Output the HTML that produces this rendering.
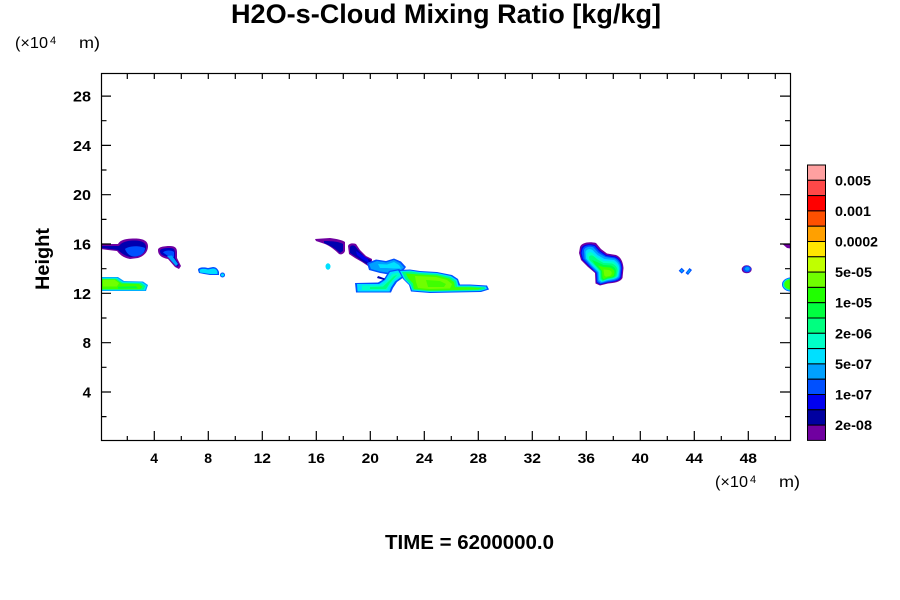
<!DOCTYPE html>
<html>
<head>
<meta charset="utf-8">
<style>
html,body{margin:0;padding:0;background:#fff;}
svg{display:block;}
text{font-family:"Liberation Sans",Arial,sans-serif;fill:#000;}
.b{font-weight:bold;}
</style>
</head>
<body>
<svg width="900" height="600" viewBox="0 0 900 600" xmlns="http://www.w3.org/2000/svg">
<defs>
<clipPath id="pc"><rect x="101.5" y="73.5" width="689" height="367"/></clipPath>
</defs>

<!-- Title -->
<text class="b" x="231" y="23" font-size="27" textLength="430" lengthAdjust="spacingAndGlyphs">H2O-s-Cloud Mixing Ratio [kg/kg]</text>

<!-- top-left unit label -->
<text x="15" y="48" font-size="16" textLength="33" lengthAdjust="spacingAndGlyphs">(×10</text>
<text x="50" y="44" font-size="11">4</text>
<text x="79" y="48" font-size="16" textLength="21" lengthAdjust="spacingAndGlyphs">m)</text>

<!-- bottom-right unit label -->
<text x="715" y="487" font-size="16" textLength="33" lengthAdjust="spacingAndGlyphs">(×10</text>
<text x="750" y="483" font-size="11">4</text>
<text x="779" y="487" font-size="16" textLength="21" lengthAdjust="spacingAndGlyphs">m)</text>

<!-- Height label -->
<text class="b" transform="translate(49,290) rotate(-90)" x="0" y="0" font-size="19" textLength="62" lengthAdjust="spacingAndGlyphs">Height</text>

<!-- TIME -->
<text class="b" x="385" y="549" font-size="20" textLength="169" lengthAdjust="spacingAndGlyphs">TIME = 6200000.0</text>

<!-- Clouds -->
<g clip-path="url(#pc)">
  <!-- Cloud A upper left -->
  <path d="M101,244 L118,244 C120,240 126,238.5 135,238.5 C143,238.5 148,241 148,246 C148,252 144,256 138,258 L130,259 C124,258 120,255 117,251 L108,250 L101,249 Z" fill="#7000a0"/>
  <path d="M101,246 L119,246 C122,242 127,240.5 135,240.5 C142,240.5 146,243 146,247 C146,252 142,255 137,256.5 L130,257 C125,256 121,253 118,250 L101,248 Z" fill="#0000b0"/>
  <path d="M125,249 C129,245.5 140,245.5 145,248 C145,253 141,256 135,256.5 C130,256.5 127,254 125,249 Z" fill="#0050ff"/>

  <!-- Cloud B -->
  <path d="M158,250 C158,247 164,246 170,246 C175,246 177,248 177,252 L177,258 L181,266 L179,269 L175,267 L168,259 C163,258 158,256 158,250 Z" fill="#7000a0"/>
  <path d="M160,251 C160,248.5 165,248 170,248 C174,248 175,250 175,253 L175,258 L179,265 L177,267 L168,257 C164,256 160,255 160,251 Z" fill="#0000c0"/>
  <path d="M163,252.5 C165,250 172,250 174,252 L174,257 L168,256 Z" fill="#0050ff"/>
  <path d="M167,256 L172,255.5 L178,264 L176,266 Z" fill="#00a0ff"/>

  <!-- Cloud C lower green left -->
  <path d="M101,277 L118,277 L124,281 L143,281.5 L148,285 L146,291 L101,291 Z" fill="#00a0ff"/>
  <path d="M101,277.8 L117,277.8 L123,281.8 L142,282.3 L146.8,285.5 L145,290.3 L101,290.3 Z" fill="#00e0ff"/>
  <path d="M101,278.6 L116.5,278.6 L122.5,282.6 L141,283 L145.3,286 L143.5,289.7 L101,289.7 Z" fill="#00ff80"/>
  <path d="M102,279.2 L115.5,279.2 L121.5,283.5 L139,284 L142.5,286.8 L140,289.2 L102,289.2 Z" fill="#40ff00"/>
  <path d="M103,279.8 L114.5,279.8 L119,283 L117,286.5 L103,286.5 Z" fill="#70ff00"/>
  <path d="M118,286.8 L136,286.3 L138,288.2 L118,288.6 Z" fill="#00ff40"/>

  <!-- Cloud D small cyan -->
  <path d="M198,270 C198,267 204,267 208,268 L213,267 C216,267 218,269 219,272 L219,275 L210,275 L204,274 L199,273 Z" fill="#0050ff"/>
  <path d="M199.5,270.5 C200,268.5 204,268.5 208,269.5 L213,268.5 C215.5,268.5 217,270 217.5,272 L217.5,274 L210,274 L204,273 L200,272.5 Z" fill="#00e0ff"/>
  <circle cx="222.5" cy="275" r="2.5" fill="#0050ff"/>
  <circle cx="222.5" cy="275" r="1.5" fill="#00e0ff"/>

  <!-- Cloud E1 purple streak -->
  <path d="M315,239 L330,238 C337,239 342,240 345,242 L345,251 C344,254 341,255 339,254 C335,250 330,246 325,244 L316,241 Z" fill="#7000a0"/>
  <path d="M324,241 C333,241 340,242 343,244 L343,251 L340,253 C336,249 331,246 324,243 Z" fill="#0000b0"/>

  <!-- Cloud E2 -->
  <path d="M348,246 C349,243 353,243 356,244 L360,250 L366,256 L372,259 L372,266 L368,266 L362,262 L355,258 L349,254 Z" fill="#7000a0"/>
  <path d="M350,247 C351,245 353,245 355,246 L359,251 L365,257 L371,260 L371,265 L368,265 L362,261 L356,257 L350,253 Z" fill="#0000b0"/>
  <path d="M356,251 L362,255 L368,259 L369,263 L362,259 L357,255 Z" fill="#0000f0"/>

  <!-- E3 dot -->
  <ellipse cx="328" cy="266.5" rx="2.5" ry="3.2" fill="#00e0ff"/>

  <!-- E4 blue/cyan -->
  <path d="M367,263 L376,259.5 L386,261 L394,258.5 L401,261.5 L406,267 L403,271 L395,271 L391,275 L380,273 L369,270 Z" fill="#0050ff"/>
  <path d="M369,264 L377,261 L386,262.5 L394,260 L400,263 L404,267.5 L401,270 L394,270 L390,273 L380,271.5 L371,269 Z" fill="#00a0ff"/>
  <path d="M378,264 L387,264.5 L394,262 L399,265 L401,268.5 L394,268.5 L386,268 L380,268 Z" fill="#00e0ff"/>

  <!-- E5 lower-left streak and connector -->
  <path d="M355,283 L378,282.5 L384,279 L389,271 L399,269 L407,275 L397,282 L393,288 L391,292.5 L356,292.5 Z" fill="#0050ff"/>
  <path d="M357,284 L379,284 L385,280 L390,272 L398,270.5 L404,275 L395,281.5 L391,287.5 L389.5,291.5 L357.5,291.5 Z" fill="#00e0ff"/>
  <path d="M362,285.5 L380,285.5 L387,281 L392,274 L398,272.5 L401,275 L394,280 L389,286 L387,290 L362,290 Z" fill="#00ffc8"/>
  <path d="M370,287 L383,286.5 L389,281 L394,276 L397,275 L390,283 L386,289 L370,289 Z" fill="#00ff80"/>
  <path d="M378,276 L385,278.5 L384,280 L377,278 Z" fill="#0000b0"/>

  <!-- E6 green region -->
  <path d="M398,270 L410,269.5 L420,271 L437,272 L452,275 L458,279 L460,284.5 L470,284.5 L487,285.5 L489,289.5 L481,292 L430,293 L411,291.5 L409,285 L403,279 Z" fill="#0050ff"/>
  <path d="M400,271 L410,270.5 L420,272 L437,273 L451,276 L457,280 L458.5,285.5 L470,285.5 L486,286.5 L487,289 L480,291 L430,292 L412,290.5 L410,285 L404,279 Z" fill="#00e0ff"/>
  <path d="M402,272 L411,271.5 L420,273 L437,274 L450,277 L456,281 L457,286.5 L470,286.5 L484.5,287.3 L485,289 L479,290.3 L430,291.3 L413,289.8 L411,284.5 L405.5,279 Z" fill="#00ff80"/>
  <path d="M406,273.5 L420,274.5 L437,275.5 L449,278.5 L454,282 L455,287.3 L470,287.4 L482,288.2 L478,289.5 L430,290.5 L414,289 L413,283.5 L408,278 Z" fill="#40ff00"/>
  <path d="M415,276 L436,277 L447,280 L452,284 L450,288.5 L430,289 L418,288 L416,282 Z" fill="#70ff00"/>
  <path d="M426,280 L440,281 L446,284 L444,287 L428,287 Z" fill="#40ff00"/>

  <!-- Cloud F at 36-38 -->
  <path d="M580,247 C582,242 590,241.5 596,243 L601,249 L607,253.5 L616,255 C621,257 623,262 623.5,268 L622.5,278 C620.5,282 614,283 608,283.5 L600,285.5 L595.5,283.5 L595,273 L588,267 L581,260 L579,253 Z" fill="#7000a0"/>
  <path d="M581.5,248 C583,244 590,243.5 595,245 L600,250.5 L606.5,255 L615.5,256.5 C620,258.5 622,263 622.3,268 L621.3,277.5 C619.5,281 614,282 608,282.5 L600,284.5 L596.5,282.5 L596,273 L589,266.5 L582,259.5 L580.5,253 Z" fill="#0000f0"/>
  <path d="M582.5,249 C584,245 590,244.5 594.5,246 L599.5,251.5 L606,256 L615,257.5 C619.5,259.5 621.5,263.5 621.5,268.5 L620.5,277 C619,280.5 613.5,281.5 608,282 L600.3,284 L597,282 L596.5,273 L589.5,266 L583,259 L581.5,253 Z" fill="#0050ff"/>
  <path d="M584,250 C585,247 590,246 593.5,247.5 L598.5,253 L605.5,257 L614.5,258.5 C618.5,260.5 620.5,264 620.5,268.5 L619.5,276.5 C618,279.5 613,280.5 608,281 L600.8,283 L598,281 L597.5,272.5 L590.5,265.5 L584.5,258.5 Z" fill="#00a0ff"/>
  <path d="M585.5,252 C586.5,249 590,248.5 592.5,250 L597.5,255 L604.5,259 L614,260 C617.5,262 619.5,265 619.5,269 L618.5,276 C617,278.5 612.5,279.5 608,280 L601.5,282 L599,280 L598.5,272 L591.5,265 L586,258.5 Z" fill="#00e0ff"/>
  <path d="M587,254.5 C588,252 590.5,251.5 592.5,253 L597,257 L603.5,261 L613,261.5 C616.5,263.5 618.5,266 618.5,269.5 L617.5,276 C616,278 612,279 608,279.5 L602,281.5 L599.8,279.5 L599.3,271.5 L592.5,264.5 L587.5,259 Z" fill="#00ffc8"/>
  <path d="M589,257 C590,255 592,255 594,256.5 L597.5,259.5 L603.5,263 L612,263.5 C615.5,265 617.5,267.5 617.5,270.5 L616.5,276 C615,278 611.5,278.5 608,279 L602.5,281 L600.5,279 L600,271 L593.5,264 L589.5,260 Z" fill="#00ff80"/>
  <path d="M592,260 L597,262 L603.5,265 L611,265.5 C614.5,267 616,269 616,271.5 L615.3,275.8 C614,277.5 611,278 608,278.3 L603,280.3 L601.3,278.3 L601,271 L595,264.5 Z" fill="#00ff40"/>
  <path d="M598,265.5 L603.5,267 L610,267.5 C613.5,269 614.5,270.5 614.5,272.5 L613.8,275.5 C612.5,277 610,277.3 607.5,277.5 L603.8,279.3 L602.5,277.5 L602,271 Z" fill="#40ff00"/>
  <path d="M603.5,269.5 L609,270 C611.5,271 612,272.5 611.5,274.3 L610.5,275.8 L606,276.8 L604.3,275.5 Z" fill="#70ff00"/>

  <!-- small diamonds near 43-44 -->
  <path d="M681.7,267.8 L684.7,270.7 L681.7,273.6 L678.7,270.7 Z" fill="#0050ff"/>
  <path d="M681.7,269.3 L683.2,270.7 L681.7,272.1 L680.2,270.7 Z" fill="#00a0ff"/>
  <path d="M689.5,268 L692,270 L688,275 L685.5,273 Z" fill="#0050ff"/>
  <path d="M689.3,269.5 L690.5,270.5 L688,273.5 L687,272.5 Z" fill="#00a0ff"/>

  <!-- small cloud at 48 -->
  <ellipse cx="746.7" cy="269.3" rx="5" ry="4" fill="#7000a0"/>
  <ellipse cx="747" cy="269" rx="4" ry="3.2" fill="#0050ff"/>
  <ellipse cx="747.3" cy="268.8" rx="2.3" ry="1.8" fill="#00a0ff"/>

  <!-- right edge purple -->
  <path d="M783,244.5 L791,243.5 L791,248.5 L787,248 Z" fill="#7000a0"/>

  <!-- right edge green blob -->
  <ellipse cx="791" cy="284.5" rx="9" ry="7" fill="#0050ff"/>
  <ellipse cx="791" cy="284.5" rx="8.2" ry="6.3" fill="#00e0ff"/>
  <ellipse cx="791" cy="284.5" rx="7.4" ry="5.7" fill="#00ff80"/>
  <ellipse cx="791" cy="284.3" rx="6.5" ry="5" fill="#40ff00"/>
</g>

<!-- Axes frame -->
<rect x="101.5" y="73.5" width="689" height="367" fill="none" stroke="#000" stroke-width="1.2"/>

<!-- Ticks -->
<g stroke="#000" stroke-width="1.2">
  <path d="M154.3,440 V431 M208.3,440 V431 M262.3,440 V431 M316.3,440 V431 M370.3,440 V431 M424.3,440 V431 M478.3,440 V431 M532.3,440 V431 M586.3,440 V431 M640.3,440 V431 M694.3,440 V431 M748.3,440 V431"/>
  <path d="M127.3,440 V436 M181.3,440 V436 M235.3,440 V436 M289.3,440 V436 M343.3,440 V436 M397.3,440 V436 M451.3,440 V436 M505.3,440 V436 M559.3,440 V436 M613.3,440 V436 M667.3,440 V436 M721.3,440 V436 M775.3,440 V436"/>
  <path d="M127.3,74 V79 M154.3,74 V79 M181.3,74 V79 M208.3,74 V79 M235.3,74 V79 M262.3,74 V79 M289.3,74 V79 M316.3,74 V79 M343.3,74 V79 M370.3,74 V79 M397.3,74 V79 M424.3,74 V79 M451.3,74 V79 M478.3,74 V79 M505.3,74 V79 M532.3,74 V79 M559.3,74 V79 M586.3,74 V79 M613.3,74 V79 M640.3,74 V79 M667.3,74 V79 M694.3,74 V79 M721.3,74 V79 M748.3,74 V79 M775.3,74 V79"/>
  <path d="M102,392 H111 M102,342.7 H111 M102,293.3 H111 M102,244 H111 M102,194.7 H111 M102,145.4 H111 M102,96.1 H111"/>
  <path d="M102,416.6 H106.5 M102,367.3 H106.5 M102,318 H106.5 M102,268.7 H106.5 M102,219.4 H106.5 M102,170 H106.5 M102,120.7 H106.5"/>
  <path d="M790,392 H780 M790,342.7 H780 M790,293.3 H780 M790,244 H780 M790,194.7 H780 M790,145.4 H780 M790,96.1 H780"/>
  <path d="M790,416.6 H785 M790,367.3 H785 M790,318 H785 M790,268.7 H785 M790,219.4 H785 M790,170 H785 M790,120.7 H785"/>
</g>

<!-- Y tick labels -->
<g font-size="15" text-anchor="end" font-weight="bold">
  <text x="91" y="397.5" class="b">4</text>
  <text x="91" y="348.2" class="b">8</text>
  <text x="91" y="298.8" class="b" textLength="18" lengthAdjust="spacingAndGlyphs">12</text>
  <text x="91" y="249.5" class="b" textLength="18" lengthAdjust="spacingAndGlyphs">16</text>
  <text x="91" y="200.2" class="b" textLength="18" lengthAdjust="spacingAndGlyphs">20</text>
  <text x="91" y="150.9" class="b" textLength="18" lengthAdjust="spacingAndGlyphs">24</text>
  <text x="91" y="101.6" class="b" textLength="18" lengthAdjust="spacingAndGlyphs">28</text>
</g>

<!-- X tick labels -->
<g font-size="14" font-weight="bold">
  <text class="b" x="150.3" y="463">4</text>
  <text class="b" x="204.3" y="463">8</text>
  <text class="b" x="253.6" y="463" textLength="17.4" lengthAdjust="spacingAndGlyphs">12</text>
  <text class="b" x="307.6" y="463" textLength="17.4" lengthAdjust="spacingAndGlyphs">16</text>
  <text class="b" x="361.6" y="463" textLength="17.4" lengthAdjust="spacingAndGlyphs">20</text>
  <text class="b" x="415.6" y="463" textLength="17.4" lengthAdjust="spacingAndGlyphs">24</text>
  <text class="b" x="469.6" y="463" textLength="17.4" lengthAdjust="spacingAndGlyphs">28</text>
  <text class="b" x="523.6" y="463" textLength="17.4" lengthAdjust="spacingAndGlyphs">32</text>
  <text class="b" x="577.6" y="463" textLength="17.4" lengthAdjust="spacingAndGlyphs">36</text>
  <text class="b" x="631.6" y="463" textLength="17.4" lengthAdjust="spacingAndGlyphs">40</text>
  <text class="b" x="685.6" y="463" textLength="17.4" lengthAdjust="spacingAndGlyphs">44</text>
  <text class="b" x="739.6" y="463" textLength="17.4" lengthAdjust="spacingAndGlyphs">48</text>
</g>

<!-- Colorbar -->
<g stroke="#000" stroke-width="1">
  <rect x="807.5" y="165.0" width="18" height="15.3" fill="#ffa0a0"/>
  <rect x="807.5" y="180.3" width="18" height="15.3" fill="#ff4848"/>
  <rect x="807.5" y="195.6" width="18" height="15.3" fill="#ff0000"/>
  <rect x="807.5" y="210.9" width="18" height="15.3" fill="#ff5000"/>
  <rect x="807.5" y="226.2" width="18" height="15.3" fill="#ffa000"/>
  <rect x="807.5" y="241.5" width="18" height="15.3" fill="#ffe600"/>
  <rect x="807.5" y="256.8" width="18" height="15.3" fill="#c0ff00"/>
  <rect x="807.5" y="272.1" width="18" height="15.3" fill="#70ff00"/>
  <rect x="807.5" y="287.4" width="18" height="15.3" fill="#20ff00"/>
  <rect x="807.5" y="302.7" width="18" height="15.3" fill="#00ff40"/>
  <rect x="807.5" y="318.0" width="18" height="15.3" fill="#00ff80"/>
  <rect x="807.5" y="333.3" width="18" height="15.3" fill="#00ffc8"/>
  <rect x="807.5" y="348.6" width="18" height="15.3" fill="#00e0ff"/>
  <rect x="807.5" y="363.9" width="18" height="15.3" fill="#00a0ff"/>
  <rect x="807.5" y="379.2" width="18" height="15.3" fill="#0050ff"/>
  <rect x="807.5" y="394.5" width="18" height="15.3" fill="#0000f0"/>
  <rect x="807.5" y="409.8" width="18" height="15.3" fill="#0000a0"/>
  <rect x="807.5" y="425.1" width="18" height="15.3" fill="#7000a0"/>
</g>

<g font-size="13.5" font-weight="bold">
  <text class="b" x="835" y="185.3" textLength="36" lengthAdjust="spacingAndGlyphs">0.005</text>
  <text class="b" x="835" y="215.9" textLength="36" lengthAdjust="spacingAndGlyphs">0.001</text>
  <text class="b" x="835" y="246.5" textLength="43" lengthAdjust="spacingAndGlyphs">0.0002</text>
  <text class="b" x="835" y="277.1" textLength="37" lengthAdjust="spacingAndGlyphs">5e-05</text>
  <text class="b" x="835" y="307.7" textLength="37" lengthAdjust="spacingAndGlyphs">1e-05</text>
  <text class="b" x="835" y="338.3" textLength="37" lengthAdjust="spacingAndGlyphs">2e-06</text>
  <text class="b" x="835" y="368.9" textLength="37" lengthAdjust="spacingAndGlyphs">5e-07</text>
  <text class="b" x="835" y="399.5" textLength="37" lengthAdjust="spacingAndGlyphs">1e-07</text>
  <text class="b" x="835" y="430.1" textLength="37" lengthAdjust="spacingAndGlyphs">2e-08</text>
</g>
</svg>
</body>
</html>
